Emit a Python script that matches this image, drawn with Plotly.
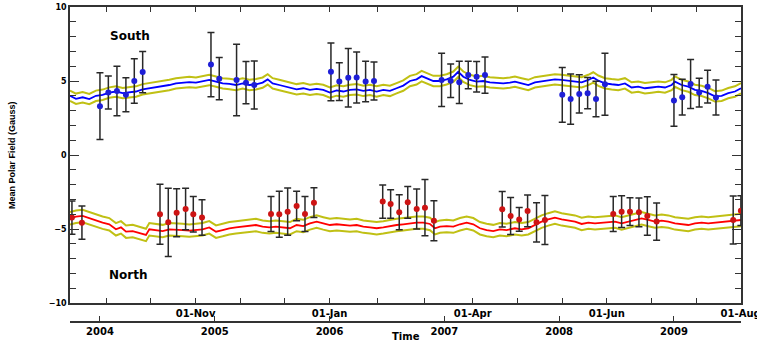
import plotly.graph_objects as go

# ---------------- data (decimal years, Gauss) ----------------
south_t = [2003.739, 2003.791, 2003.849, 2003.907, 2003.965, 2004.023, 2004.081, 2004.139, 2004.198, 2004.256,
           2004.314, 2004.372, 2004.430, 2004.488, 2004.546, 2004.604, 2004.662, 2004.720, 2004.778, 2004.836,
           2004.894, 2004.952, 2005.011, 2005.069, 2005.127, 2005.185, 2005.243, 2005.301, 2005.359, 2005.417,
           2005.461, 2005.504, 2005.562, 2005.620,
           2005.655, 2005.713, 2005.771, 2005.829, 2005.887, 2005.945, 2006.003, 2006.062, 2006.120, 2006.178,
           2006.236, 2006.294, 2006.352, 2006.410, 2006.468, 2006.526, 2006.584, 2006.642, 2006.700, 2006.758,
           2006.802, 2006.846, 2006.904, 2006.962, 2007.020, 2007.078, 2007.121, 2007.165, 2007.223, 2007.281,
           2007.339, 2007.397, 2007.455, 2007.513, 2007.571,
           2007.615, 2007.673, 2007.731, 2007.789, 2007.847, 2007.905, 2007.963, 2008.022, 2008.080, 2008.138,
           2008.196, 2008.254, 2008.297, 2008.341, 2008.399, 2008.457, 2008.515, 2008.573, 2008.631, 2008.689,
           2008.747, 2008.805, 2008.864, 2008.922, 2008.980, 2009.009, 2009.067, 2009.125, 2009.183, 2009.241,
           2009.299, 2009.357, 2009.415, 2009.473, 2009.531, 2009.584]
south_v = [4.00, 3.80, 3.90, 3.78, 4.00, 4.07, 4.22, 4.29, 4.18, 4.24,
           4.29, 4.44, 4.51, 4.56, 4.62, 4.73, 4.84, 4.89, 4.93, 4.89,
           4.96, 5.07, 4.96, 4.84, 4.80, 4.73, 4.84, 4.73, 4.78, 4.89,
           5.11, 4.84, 4.73, 4.62,
           4.56, 4.44, 4.51, 4.40, 4.47, 4.40, 4.22, 4.36, 4.29, 4.40,
           4.44, 4.33, 4.40, 4.29, 4.40, 4.33, 4.51, 4.69, 5.00, 5.11,
           5.33, 5.18, 5.00, 5.00, 5.11, 5.29, 5.62, 5.29, 5.07, 4.96,
           5.00, 4.91, 4.89, 4.84, 4.89,
           4.96, 4.84, 4.73, 4.91, 4.96, 5.02, 5.11, 5.07, 5.00, 4.96,
           4.91, 5.07, 5.24, 5.02, 4.84, 4.78, 4.73, 4.84, 4.56, 4.62,
           4.51, 4.56, 4.62, 4.56, 4.73, 4.96, 4.73, 4.62, 4.40, 4.33,
           4.18, 3.96, 4.00, 4.18, 4.29, 4.51]
south_band = 0.35

north_t = [2003.739, 2003.791, 2003.849, 2003.907, 2003.965, 2004.023, 2004.081, 2004.139, 2004.183, 2004.227,
           2004.285, 2004.343, 2004.401, 2004.430, 2004.488, 2004.546, 2004.604, 2004.662, 2004.720, 2004.778,
           2004.836, 2004.894, 2004.952, 2005.011, 2005.069, 2005.127, 2005.185, 2005.243, 2005.301, 2005.359,
           2005.417, 2005.475, 2005.533, 2005.591,
           2005.655, 2005.713, 2005.771, 2005.829, 2005.887, 2005.945, 2006.003, 2006.062, 2006.120, 2006.178,
           2006.236, 2006.294, 2006.352, 2006.410, 2006.468, 2006.526, 2006.584, 2006.642, 2006.700, 2006.758,
           2006.816, 2006.875, 2006.918, 2006.962, 2007.020, 2007.078, 2007.136, 2007.194, 2007.252, 2007.310,
           2007.368, 2007.426, 2007.484, 2007.542,
           2007.615, 2007.673, 2007.731, 2007.789, 2007.847, 2007.905, 2007.963, 2008.022, 2008.080, 2008.138,
           2008.196, 2008.254, 2008.312, 2008.370, 2008.428, 2008.486, 2008.544, 2008.602, 2008.660, 2008.718,
           2008.776, 2008.835, 2008.893, 2008.951, 2009.009, 2009.067, 2009.125, 2009.183, 2009.241, 2009.299,
           2009.357, 2009.415, 2009.473, 2009.531, 2009.584]
north_v = [-4.28, -4.17, -4.12, -4.28, -4.44, -4.57, -4.68, -5.02, -4.89, -5.18,
           -5.14, -5.25, -5.40, -5.02, -5.07, -5.14, -5.02, -5.07, -5.07, -5.11,
           -5.07, -5.02, -4.89, -5.18, -5.07, -4.95, -4.89, -4.84, -4.80, -4.73,
           -4.84, -4.89, -4.84, -4.89,
           -4.95, -4.73, -4.80, -4.62, -4.50, -4.62, -4.73, -4.68, -4.73, -4.77,
           -4.73, -4.84, -4.89, -4.95, -4.89, -4.80, -4.73, -4.68, -4.62, -4.57,
           -4.57, -4.66, -4.95, -4.84, -4.80, -4.84, -4.68, -4.57, -4.68, -4.95,
           -5.07, -5.14, -5.02, -5.07,
           -4.95, -5.02, -4.95, -4.73, -4.50, -4.35, -4.23, -4.35, -4.44, -4.50,
           -4.66, -4.57, -4.62, -4.57, -4.50, -4.50, -4.62, -4.50, -4.39, -4.28,
           -4.39, -4.50, -4.44, -4.50, -4.62, -4.68, -4.73, -4.62, -4.57, -4.62,
           -4.57, -4.50, -4.46, -4.39, -4.39]
north_band = 0.42

south_pt_t = [2004.000, 2004.073, 2004.148, 2004.226, 2004.299, 2004.372, 2004.967, 2005.039, 2005.190, 2005.272,
              2005.344, 2006.012, 2006.085, 2006.163, 2006.236, 2006.314, 2006.387, 2006.976, 2007.055, 2007.130,
              2007.208, 2007.281, 2007.354, 2008.027, 2008.100, 2008.175, 2008.248, 2008.321, 2008.399, 2009.000,
              2009.072, 2009.145, 2009.220, 2009.293, 2009.366]
south_pt_v = [3.30, 4.22, 4.33, 4.07, 5.00, 5.60, 6.11, 5.16, 5.07, 4.89,
              4.73, 5.62, 4.96, 5.22, 5.24, 4.96, 5.00, 5.07, 5.02, 4.91,
              5.40, 5.29, 5.40, 4.07, 3.78, 4.13, 4.18, 3.78, 4.78, 3.69,
              3.91, 4.80, 4.22, 4.62, 3.89]
south_pt_e = [2.25, 1.11, 1.67, 1.15, 1.50, 1.40, 2.17, 1.42, 2.42, 1.42,
              1.62, 1.95, 1.28, 1.97, 1.72, 1.37, 1.28, 1.80, 1.13, 1.43,
              0.93, 1.03, 1.22, 1.85, 1.70, 1.30, 1.05, 1.20, 2.10, 1.75,
              1.20, 1.65, 0.97, 1.10, 1.18]

north_pt_t = [2003.756, 2003.843, 2004.523, 2004.595, 2004.668, 2004.746, 2004.813, 2004.889, 2005.490, 2005.562,
              2005.635, 2005.713, 2005.786, 2005.864, 2006.463, 2006.532, 2006.607, 2006.681, 2006.759, 2006.831,
              2006.909, 2007.504, 2007.577, 2007.652, 2007.725, 2007.803, 2007.876, 2008.471, 2008.544, 2008.617,
              2008.695, 2008.768, 2008.849, 2009.516, 2009.583]
north_pt_v = [-4.23, -4.57, -4.00, -4.55, -3.90, -3.65, -4.00, -4.23, -3.99, -4.00,
              -3.83, -3.45, -3.99, -3.22, -3.15, -3.31, -3.87, -3.20, -3.65, -3.56,
              -4.44, -3.67, -4.12, -4.35, -3.78, -4.55, -4.39, -3.99, -3.83, -3.83,
              -3.87, -4.12, -4.50, -4.39, -3.76]
north_pt_e = [1.12, 1.13, 2.03, 2.30, 1.62, 1.40, 1.20, 1.20, 1.18, 1.55,
              1.60, 1.00, 1.18, 1.00, 1.12, 0.97, 1.18, 1.07, 1.35, 1.90,
              1.35, 1.20, 1.25, 0.80, 1.07, 1.32, 1.65, 1.18, 1.07, 0.94,
              0.97, 1.30, 1.26, 1.62, 1.00]

date_tick_vals = [2004.053, 2004.443, 2004.833, 2005.222, 2005.611, 2006.000, 2006.416, 2006.831,
                  2007.247, 2007.636, 2008.026, 2008.415, 2008.804, 2009.192, 2009.581]
date_tick_text = ["", "", "01-Nov", "", "", "01-Jan", "", "", "01-Apr", "", "", "01-Jun", "", "", "01-Aug"]
year_tick_vals = [2004, 2005, 2006, 2007, 2008, 2009]
year_tick_text = ["2004", "2005", "2006", "2007", "2008", "2009"]
x_range = [2003.739, 2009.584]

# ---------------- figure ----------------
YEL = "rgb(192,192,20)"
AX = "#333333"
FONT = "DejaVu Sans"

fig = go.Figure()

for t, v, band in [(south_t, south_v, south_band), (north_t, north_v, north_band)]:
    fig.add_trace(go.Scatter(x=t, y=[a + band for a in v], mode="lines",
                             line=dict(color=YEL, width=2), hoverinfo="skip"))
    fig.add_trace(go.Scatter(x=t, y=[a - band for a in v], mode="lines",
                             line=dict(color=YEL, width=2), hoverinfo="skip"))

fig.add_trace(go.Scatter(x=south_t, y=south_v, mode="lines", line=dict(color="rgb(0,0,255)", width=1.8)))
fig.add_trace(go.Scatter(x=north_t, y=north_v, mode="lines", line=dict(color="rgb(255,0,0)", width=1.8)))

fig.add_trace(go.Scatter(x=south_pt_t, y=south_pt_v, mode="markers", xaxis="x2",
                         marker=dict(color="rgb(30,30,215)", size=6),
                         error_y=dict(type="data", array=south_pt_e, color="rgb(40,40,40)",
                                      thickness=1.5, width=3.5)))
fig.add_trace(go.Scatter(x=north_pt_t, y=north_pt_v, mode="markers", xaxis="x2",
                         marker=dict(color="rgb(205,20,20)", size=6),
                         error_y=dict(type="data", array=north_pt_e, color="rgb(40,40,40)",
                                      thickness=1.5, width=3.5)))

fig.add_annotation(text="<b>South</b>", x=2004.26, y=8.05, xref="x", yref="y", showarrow=False,
                   xanchor="center", yanchor="middle",
                   font=dict(family=FONT, size=12, color="black"))
fig.add_annotation(text="<b>North</b>", x=2004.24, y=-8.1, xref="x", yref="y", showarrow=False,
                   xanchor="center", yanchor="middle",
                   font=dict(family=FONT, size=12, color="black"))
fig.add_annotation(text="<b>Time</b>", x=0.5, y=-0.047, xref="paper", yref="paper", showarrow=False,
                   xanchor="center", yanchor="middle",
                   font=dict(family=FONT, size=10, color="black"))
fig.add_annotation(text="<b>Mean Polar Field (Gauss)</b>", x=-0.0864, y=0.53, xref="paper", yref="paper",
                   showarrow=False, textangle=-90, xanchor="center", yanchor="middle",
                   font=dict(family="Liberation Sans", size=9, color="black"))

fig.update_layout(
    template="none",
    width=757, height=343,
    margin=dict(l=70, r=16, t=7, b=21),
    paper_bgcolor="white", plot_bgcolor="white",
    showlegend=False,
    xaxis=dict(range=x_range, tickmode="array", tickvals=date_tick_vals, ticktext=date_tick_text,
               ticks="inside", ticklen=5, tickcolor=AX, tickwidth=1.2,
               showline=True, linecolor=AX, linewidth=1.5, mirror="ticks",
               showgrid=False, zeroline=False, automargin=False, ticklabeloverflow="allow",
               tickfont=dict(family=FONT, size=10, color="black", weight="bold")),
    xaxis2=dict(range=x_range, overlaying="x", anchor="free", position=0, side="bottom",
                tickmode="array", tickvals=year_tick_vals, ticktext=year_tick_text,
                ticks="inside", ticklen=5, tickcolor=AX, tickwidth=1.2,
                showline=True, linecolor=AX, linewidth=1.5,
                showgrid=False, zeroline=False, automargin=False,
                tickfont=dict(family=FONT, size=10, color="black", weight="bold")),
    yaxis=dict(domain=[0.0603, 1], range=[-10, 10], tickmode="array", tickvals=[-10, -5, 0, 5, 10],
               ticks="inside", ticklen=9, tickcolor=AX, tickwidth=1.2,
               minor=dict(dtick=1, ticks="inside", ticklen=6, tickcolor=AX, tickwidth=1.2, showgrid=False),
               showline=True, linecolor=AX, linewidth=1.5, mirror="ticks",
               showgrid=False, zeroline=False, automargin=False,
               tickfont=dict(family=FONT, size=8, color="black", weight="bold")),
)

fig.write_html("out.html", config={"displayModeBar": False},
               post_script="document.body.style.margin='0';document.body.style.overflow='hidden';")
